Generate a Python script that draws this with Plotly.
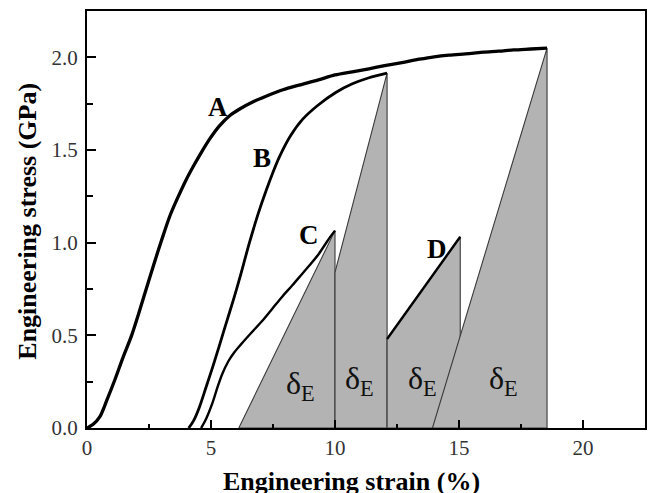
import plotly.graph_objects as go

# ---- data ----
A_x = [0, 0.25, 0.52, 0.8, 1.12, 1.45, 1.8, 2.1, 2.4, 2.7, 3.0, 3.33, 3.65, 4.0, 4.3, 4.6,
       4.95, 5.34, 5.75, 6.14, 6.7, 7.22, 7.9, 8.55, 9.3, 10.0, 10.7, 11.37, 12.0, 12.7,
       13.4, 14.0, 14.6, 15.4, 16.0, 16.6, 17.2, 17.9, 18.55]
A_y = [0, 0.02, 0.061, 0.15, 0.259, 0.38, 0.50, 0.625, 0.755, 0.885, 1.01, 1.14, 1.24, 1.34,
       1.415, 1.485, 1.56, 1.63, 1.685, 1.72, 1.76, 1.79, 1.825, 1.85, 1.877, 1.905, 1.922,
       1.938, 1.955, 1.972, 1.99, 2.003, 2.012, 2.02, 2.028, 2.033, 2.04, 2.045, 2.05]

B_x = [4.1, 4.3, 4.54, 4.8, 5.07, 5.35, 5.61, 5.9, 6.14, 6.55, 6.9, 7.22, 7.5, 7.75, 8.2,
       8.69, 9.3, 10.03, 10.7, 11.37, 12.1]
B_y = [0, 0.04, 0.115, 0.22, 0.33, 0.45, 0.565, 0.69, 0.80, 1.0, 1.155, 1.28, 1.38, 1.46,
       1.575, 1.665, 1.74, 1.81, 1.857, 1.89, 1.915]

C_x = [4.6, 4.75, 4.9, 5.07, 5.25, 5.45, 5.7, 5.95, 6.2, 6.6, 7.08, 7.48, 7.88, 8.28, 8.69,
       9.05, 9.36, 9.6, 9.8, 10.0]
C_y = [0, 0.035, 0.08, 0.14, 0.215, 0.29, 0.36, 0.41, 0.45, 0.51, 0.58, 0.645, 0.71,
       0.77, 0.834, 0.89, 0.942, 0.99, 1.03, 1.065]

D_x = [12.1, 15.05]
D_y = [0.48, 1.032]

# elastic-recovery (delta_E) regions: polygon vertices (strain %, stress GPa)
triC_x = [6.12, 10.0, 10.0]
triC_y = [0, 1.065, 0]
triB_x = [10.0, 10.0, 12.1, 12.1]
triB_y = [0, 0.84, 1.915, 0]
triD_x = [12.1, 12.1, 15.05, 15.05]
triD_y = [0, 0.48, 1.032, 0]
triA_x = [13.93, 18.55, 18.55]
triA_y = [0, 2.05, 0]

curve_labels = ["A", "B", "C", "D"]
x_ticks = [0, 5, 10, 15, 20]
y_ticks = [0.0, 0.5, 1.0, 1.5, 2.0]
x_title = "Engineering strain (%)"
y_title = "Engineering stress (GPa)"

FONT = "Liberation Serif, Times New Roman, serif"
GRAY = "#b3b3b3"

fig = go.Figure()

for px, py in [(triC_x, triC_y), (triB_x, triB_y), (triD_x, triD_y), (triA_x, triA_y)]:
    fig.add_trace(go.Scatter(
        x=px + [px[0]], y=py + [py[0]], mode="lines", fill="toself",
        fillcolor=GRAY, line=dict(color="#3a3a3a", width=1.1),
        hoverinfo="skip", showlegend=False))

for cx, cy, w in [(A_x, A_y, 3.3), (B_x, B_y, 2.8), (C_x, C_y, 2.4), (D_x, D_y, 2.4)]:
    fig.add_trace(go.Scatter(x=cx, y=cy, mode="lines",
                             line=dict(color="black", width=w, shape="spline", smoothing=0.8),
                             showlegend=False))

# curve letters
lab_x = [5.28, 7.05, 8.96, 14.1]
lab_y = [1.734, 1.456, 1.041, 0.965]
for t, lx, ly in zip(curve_labels, lab_x, lab_y):
    fig.add_annotation(x=lx, y=ly, text="<b>%s</b>" % t, showarrow=False,
                       font=dict(family=FONT, size=27, color="black"))

# delta_E labels
de_x = [8.59, 10.98, 13.53, 16.79]
de_y = [0.23, 0.255, 0.255, 0.255]
for dx, dy in zip(de_x, de_y):
    fig.add_annotation(x=dx, y=dy, text="δ<sub>E</sub>", showarrow=False,
                       font=dict(family=FONT, size=32, color="#111"))

# axis titles
fig.add_annotation(xref="paper", yref="paper", x=(352 - 87) / 560, y=-(481 - 428) / 417,
                   xanchor="center", yanchor="middle", text="<b>%s</b>" % x_title,
                   showarrow=False, font=dict(family=FONT, size=26, color="black"))
fig.add_annotation(xref="paper", yref="paper", x=-(87 - 27) / 560, y=(428 - 221.5) / 417,
                   xanchor="center", yanchor="middle", textangle=-90,
                   text="<b>%s</b>" % y_title,
                   showarrow=False, font=dict(family=FONT, size=26, color="black"))

fig.update_xaxes(range=[0, 22.5], tickvals=x_ticks, ticktext=[str(v) for v in x_ticks],
                 ticks="inside", ticklen=8, tickwidth=1.5, tickcolor="black",
                 minor=dict(ticks="inside", ticklen=4, tickwidth=1.5, tickcolor="black", dtick=2.5),
                 showline=True, linewidth=2, linecolor="black", mirror=True,
                 showgrid=False, zeroline=False,
                 tickfont=dict(family=FONT, size=21, color="#333"))
fig.update_yaxes(range=[0, 2.25], tickvals=y_ticks, ticktext=["%.1f" % v for v in y_ticks],
                 ticks="inside", ticklen=9, tickwidth=1.5, tickcolor="black",
                 minor=dict(ticks="inside", ticklen=6, tickwidth=1.5, tickcolor="black", dtick=0.25),
                 showline=True, linewidth=2, linecolor="black", mirror=True,
                 showgrid=False, zeroline=False, ticklabelstandoff=3,
                 tickfont=dict(family=FONT, size=21, color="#333"))

fig.update_layout(width=648, height=493, margin=dict(l=87, r=1, t=11, b=65),
                  plot_bgcolor="white", paper_bgcolor="white")

fig.write_html("out.html")
